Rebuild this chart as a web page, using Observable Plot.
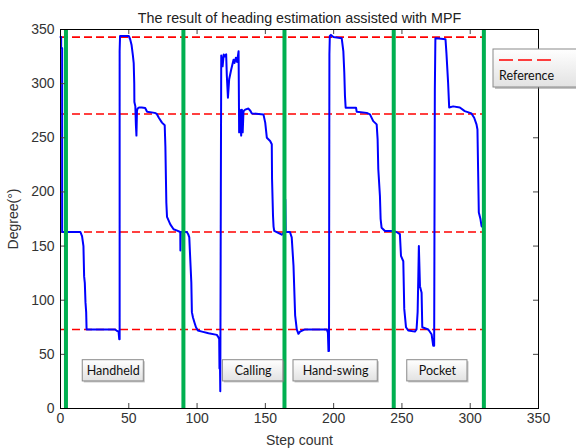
<!DOCTYPE html>
<html><head><meta charset="utf-8">
<script src="https://cdn.jsdelivr.net/npm/d3@7"></script>
<script src="https://cdn.jsdelivr.net/npm/@observablehq/plot@0.6"></script>
<style>
html,body{margin:0;padding:0;background:#fff;overflow:hidden;}
#chart{position:relative;width:576px;height:448px;}
</style></head><body><div id="chart"></div>
<script>
// ---- data ----
const title = "The result of heading estimation assisted with MPF";
const xLabel = "Step count";
const yLabel = "Degree(°)";
const legendLabel = "Reference";

const stepCount = [0,0.5,0.5,1.2,1.2,14.6,15.8,16.8,17.3,17.8,18.3,18.8,19.1,40,41,42.5,43,43.3,43.3,43.6,50,51,52,53,53.6,54,54.1,54.8,55.2,55.6,56,56.5,57.5,59.5,62,63.4,69,70.5,72,74.3,76.3,76.8,77.2,77.5,78,80.4,82.8,85,87.7,87.8,88.1,92.5,93.5,94.3,95,95.8,96.2,97,98.2,99.2,100.6,103.6,108.4,114.5,115.7,116.2,116.4,116.6,117,117.4,117.7,118.7,119.5,120.1,121.3,121.8,122.6,123.5,125,126.7,127.4,128.4,129.3,130.4,130.8,131.3,132.3,132.8,133.4,134,135.2,137.6,139,140.1,148.6,149.9,151.1,153.5,154.7,154.9,155.6,156,156.5,162,164,164.5,164.6,164.9,168,169.3,170.6,171.8,173,174.2,175.4,179,195,195.8,196.2,196.6,196.9,197.2,198,199.8,205.9,207.1,207.8,208.3,208.8,216.4,216.9,224.2,226.6,229,231.5,232.2,232.7,233.9,234.4,235.1,237.6,242.4,246,248.5,249.3,251,251.7,253,254.6,259.5,260.7,261.5,262,262.4,263.2,264.4,264.9,269.3,271.7,272.9,273.6,274.1,274.5,275.3,281.9,282.6,283.8,284.6,287.5,292.4,296,300.9,302.9,304.6,305.3,305.8,306.3,307.5,308.3,309.4];
const heading = [343,343,333,333,163,163,159,150,122,116,98,89,73,73,72,71,64,64,330,344,344,341,336,326,319,300,283,279,262,252,275,277,278,278,277.5,274,273,272,268.5,264,261.5,242,212,190,177,170,165.5,164.5,163,146,163,163,161,158,138,116,89,84,79,75,72,71,69.5,68,65.5,64,37,60,16,200,326,316,327,325,327,307,287,304,313,322,319,324,320,330,255,276,252,276,255,274.6,276,277,275,272.5,271.6,264,250,247,244,212,178,168,164,160.5,163,163,193,163,163,158,132,86,73,69,71,73,73,70,53,53,327,344,345,343,342,330,310,288.5,277.7,277.7,274,273,271.6,265.4,262.4,248.5,221,196,175,167,164,164,163,161,141,136,92,75,72,71,73,89,122,150,113,107,75,73,68.6,58,58,295,342,342,341,328,301,278,279,278,274.6,272.5,268.5,262.4,257.7,219,181,175,168.5,167];

const referenceHeadings = [343, 272, 163, 73];
const referenceEnd = 310;
const modeBoundaries = [4, 90, 164, 244, 310];
const modeLabels = ["Handheld", "Calling", "Hand-swing", "Pocket"];
const modeLabelStart = [16.3, 118.9, 170.6, 253.9];
const modeLabelEnd = [61, 163.2, 232.3, 298];
const xTicks = [0, 50, 100, 150, 200, 250, 300, 350];
const yTicks = [0, 50, 100, 150, 200, 250, 300, 350];

// ---- layout ----
const W = 576, H = 448, mt = 29, mr = 38, mb = 40, ml = 60;
const fw = W - ml - mr, fh = H - mt - mb;
const labelBoxLow = 25, labelBoxHigh = 44.6, labelTextY = 34.6;

const headingData = stepCount.map((x, i) => ({x, y: heading[i]}));
const labels = modeLabels.map((t, i) => ({t, x1: modeLabelStart[i], x2: modeLabelEnd[i]}));
const innerX = xTicks.slice(1, -1), innerY = yTicks.slice(1, -1);

const defs = () => {
  const d = d3.create("svg:defs");
  const g = d.append("linearGradient").attr("id", "btnGrad")
    .attr("x1", 0).attr("y1", 0).attr("x2", 0).attr("y2", 1);
  g.append("stop").attr("offset", "0%").attr("stop-color", "#ffffff");
  g.append("stop").attr("offset", "100%").attr("stop-color", "#e2e2e2");
  return d.node();
};

const plot = Plot.plot({
  width: W, height: H,
  marginTop: mt, marginRight: mr, marginBottom: mb, marginLeft: ml,
  style: {fontFamily: "'Liberation Sans', Arial, sans-serif", fontSize: "14px", background: "#fff", color: "#222"},
  x: {domain: [0, 350]},
  y: {domain: [0, 350]},
  marks: [
    defs,
    Plot.ruleY(referenceHeadings, {y: d => d, x1: 0, x2: referenceEnd, stroke: "#ff0000", strokeWidth: 1.6, strokeDasharray: "8,4"}),
    Plot.line(headingData, {x: "x", y: "y", stroke: "#0000ff", strokeWidth: 2, curve: "linear"}),
    Plot.ruleX(modeBoundaries, {x: d => d, stroke: "#00b050", strokeWidth: 4}),
    Plot.rect(labels, {x1: "x1", x2: "x2", y1: labelBoxLow, y2: labelBoxHigh, fill: "#7a7a7a", fillOpacity: 0.45, dx: 1.5, dy: 1.5}),
    Plot.rect(labels, {x1: "x1", x2: "x2", y1: labelBoxLow, y2: labelBoxHigh, fill: "url(#btnGrad)", stroke: "#8a8a8a", strokeWidth: 1}),
    Plot.text(labels, {x: d => (d.x1 + d.x2) / 2, y: labelTextY, text: "t", fontFamily: "Lato, 'Open Sans', sans-serif", fontSize: 12.5, fill: "#111"}),
    Plot.tickX(innerX, {x: d => d, insetTop: fh - 5, stroke: "#444"}),
    Plot.tickX(innerX, {x: d => d, insetBottom: fh - 5, stroke: "#444"}),
    Plot.tickY(innerY, {y: d => d, insetRight: fw - 5, stroke: "#444"}),
    Plot.tickY(innerY, {y: d => d, insetLeft: fw - 5, stroke: "#444"}),
    Plot.axisX({ticks: xTicks, tickSize: 0, tickPadding: 5, fontSize: 14, fill: "#333", label: xLabel, labelAnchor: "center", labelArrow: "none", labelOffset: 36}),
    Plot.axisY({ticks: yTicks, tickSize: 0, tickPadding: 6, fontSize: 14, fill: "#333", label: yLabel, labelAnchor: "center", labelArrow: "none", labelOffset: 52}),
    Plot.frame({stroke: "#000", strokeWidth: 1}),
    Plot.text([title], {frameAnchor: "top", dy: -17, fontSize: 14.3, fill: "#222"})
  ]
});
const host = document.getElementById("chart");
host.appendChild(plot);

// legend box (top right, partly outside the window as in the reference)
const svg = d3.select(plot);
const lg = svg.append("g");
lg.append("rect").attr("x", 495).attr("y", 51).attr("width", 110).attr("height", 38).attr("fill", "#7a7a7a").attr("fill-opacity", 0.45);
lg.append("rect").attr("x", 493).attr("y", 49).attr("width", 110).attr("height", 38).attr("fill", "url(#btnGrad)").attr("stroke", "#8a8a8a");
lg.append("line").attr("x1", 499).attr("x2", 551).attr("y1", 60).attr("y2", 60).attr("stroke", "#ff0000").attr("stroke-width", 1.6).attr("stroke-dasharray", "14,5");
lg.append("text").attr("x", 499).attr("y", 80).attr("text-anchor", "start").attr("font-family", "Lato, 'Open Sans', sans-serif").attr("font-size", 12.5).attr("fill", "#111").text(legendLabel);
</script></body></html>
